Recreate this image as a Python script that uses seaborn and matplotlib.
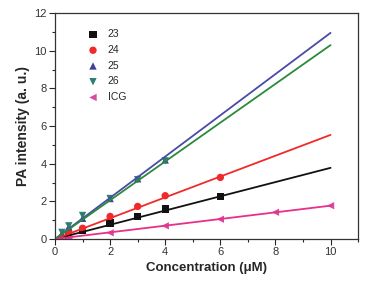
import numpy as np
import pandas as pd
import seaborn as sns
import matplotlib
import matplotlib.pyplot as plt
from matplotlib.ticker import MultipleLocator

matplotlib.use('Agg')

# Data
names = ['23', '24', '25', '26', 'ICG']
x_23 = [0.5, 1, 2, 3, 4, 6]
y_23 = [0.2, 0.45, 0.85, 1.2, 1.6, 2.25]
x_24 = [0.5, 1, 2, 3, 4, 6]
y_24 = [0.35, 0.57, 1.2, 1.73, 2.3, 3.27]
x_25 = [0.25, 0.5, 1, 2, 3, 4]
y_25 = [0.3, 0.65, 1.1, 2.15, 3.2, 4.2]
x_26 = [0.25, 0.5, 1, 2, 3, 4]
y_26 = [0.35, 0.7, 1.25, 2.15, 3.15, 4.15]
x_icg = [0.5, 2, 4, 6, 8, 10]
y_icg = [0.05, 0.33, 0.7, 1.05, 1.42, 1.77]

# linear fit lines (value at 0 and 10 uM)
fit_x = [0, 10]
fit_end = [3.78, 5.53, 10.95, 10.3, 1.77]

marker_colors = ['#111111', '#f02a2a', '#3d3f9a', '#2b7f72', '#d84a9e']
line_colors = ['#111111', '#f02a2a', '#4a4aa8', '#2a8a3a', '#e8308a']
markers = ['s', 'o', '^', 'v', '<']

sns.set_style('ticks')
plt.rcParams['font.family'] = ['Liberation Sans', 'DejaVu Sans']

fig = plt.figure(figsize=(3.73, 2.85), dpi=100)
ax = fig.add_axes([0.1475, 0.1614, 0.8125, 0.7926])

xs = [x_23, x_24, x_25, x_26, x_icg]
ys = [y_23, y_24, y_25, y_26, y_icg]
for i, name in enumerate(names):
    sns.lineplot(x=fit_x, y=[0, fit_end[i]], ax=ax, color=line_colors[i],
                 linewidth=1.3, legend=False)
    sns.scatterplot(x=xs[i], y=ys[i], ax=ax, marker=markers[i], s=28,
                    color=marker_colors[i], edgecolor='none', label=name)

ax.set_xlim(0, 11)
ax.set_ylim(0, 12)
ax.xaxis.set_major_locator(MultipleLocator(2))
ax.xaxis.set_minor_locator(MultipleLocator(1))
ax.yaxis.set_major_locator(MultipleLocator(2))
ax.yaxis.set_minor_locator(MultipleLocator(1))
ax.set_xticks([0, 2, 4, 6, 8, 10])
ax.tick_params(which='major', direction='out', length=4, width=0.8, labelsize=8,
               pad=2, labelcolor='#333333')
ax.tick_params(which='minor', direction='out', length=2.5, width=0.8)
for s in ax.spines.values():
    s.set_linewidth(0.9)
    s.set_color('#333333')

ax.set_xlabel('Concentration (\u03bcM)', fontsize=9.5, fontweight='bold', labelpad=3)
ax.set_ylabel('PA intensity (a. u.)', fontsize=10, fontweight='bold', labelpad=3)

ax.legend(loc='upper left', bbox_to_anchor=(0.06, 0.97), frameon=False,
          fontsize=7.5, handletextpad=0.4, labelspacing=0.55, markerscale=1.0)

fig.savefig('out.png', dpi=100)
